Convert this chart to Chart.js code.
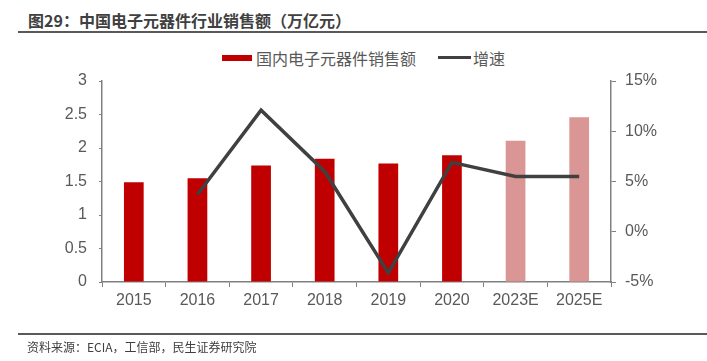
<!DOCTYPE html>
<html>
<head>
<meta charset="utf-8">
<script src="https://cdn.jsdelivr.net/npm/chart.js@4"></script>
<style>
  body { margin: 0; background: #fff; font-family: "Liberation Sans", "Noto Sans CJK SC", sans-serif; }
  #wrap { position: relative; width: 707px; height: 361px; overflow: hidden; }
  #chart { position: absolute; left: 0; top: 0; }
  .title { position: absolute; left: 28px; top: 10px; font-size: 16px; font-weight: bold; color: #404040; font-family: "Noto Sans CJK SC", sans-serif; line-height: 20px; }
  .rule { position: absolute; left: 18px; right: 0; height: 2px; background: #595959; }
  .source { position: absolute; left: 27px; top: 339px; font-size: 12px; color: #404040; font-family: "Noto Sans CJK SC", sans-serif; line-height: 16px; }
  .legend { position: absolute; top: 45px; left: 222px; font-size: 16px; color: #595959; font-family: "Noto Sans CJK SC", sans-serif; line-height: 20px; white-space: nowrap; }
  .legend span { display: inline-block; vertical-align: middle; }
  .swatch-bar { width: 30px; height: 6px; background: #C00000; margin-right: 4px; }
  .swatch-line { width: 33px; height: 3px; background: #404040; margin-left: 22px; margin-right: 2px; }
</style>
</head>
<body>
<div id="wrap">
  <div class="title">图29：中国电子元器件行业销售额（万亿元）</div>
  <div class="rule" style="top:31px"></div>
  <div class="legend">
    <span class="swatch-bar"></span><span>国内电子元器件销售额</span><span class="swatch-line"></span><span>增速</span>
  </div>
  <canvas id="chart" width="707" height="361"></canvas>
  <div class="rule" style="top:333px"></div>
  <div class="source">资料来源：ECIA，工信部，民生证券研究院</div>
</div>
<script>
// chart data
const years = ['2015', '2016', '2017', '2018', '2019', '2020', '2023E', '2025E'];
const sales = [1.49, 1.55, 1.74, 1.84, 1.77, 1.89, 2.11, 2.46];
const growth = [null, 3.7, 12.1, 6.0, -4.1, 6.9, 5.5, 5.5];
const forecast = [false, false, false, false, false, false, true, true];

const axisColor = '#808080';
const tickFont = { family: '"Liberation Sans", Arial, sans-serif', size: 16 };

new Chart(document.getElementById('chart').getContext('2d'), {
    data: {
        labels: years,
        datasets: [
            {
                type: 'line',
                label: '增速',
                data: growth,
                yAxisID: 'y1',
                borderColor: '#404040',
                borderWidth: 3.5,
                pointRadius: 0,
                tension: 0,
                order: 0
            },
            {
                type: 'bar',
                label: '国内电子元器件销售额',
                data: sales,
                yAxisID: 'y',
                backgroundColor: forecast.map(f => f ? '#D99694' : '#C00000'),
                categoryPercentage: 1,
                barPercentage: 0.31,
                order: 1
            }
        ]
    },
    options: {
        responsive: false,
        animation: false,
        layout: { padding: { top: 81, left: 0, right: 0, bottom: 0 } },
        plugins: { legend: { display: false }, tooltip: { enabled: false } },
        scales: {
            x: {
                offset: true,
                grid: { offset: true, drawOnChartArea: false, drawTicks: true, tickLength: 5, color: axisColor },
                border: { display: true, color: axisColor, width: 1.5 },
                ticks: { color: '#595959', font: tickFont, padding: 4, maxRotation: 0 },
                afterFit: s => { s.height = 79; }
            },
            y: {
                position: 'left',
                min: 0,
                max: 3,
                grid: { drawOnChartArea: false, drawTicks: true, tickLength: 3, color: axisColor },
                border: { display: true, color: axisColor, width: 1.5 },
                ticks: { stepSize: 0.5, color: '#595959', font: tickFont, padding: 12, callback: v => String(v) },
                afterFit: s => { s.width = 102; }
            },
            y1: {
                position: 'right',
                min: -5,
                max: 15,
                grid: { drawOnChartArea: false, drawTicks: true, tickLength: 5, color: axisColor },
                border: { display: true, color: axisColor, width: 1.5 },
                ticks: { stepSize: 5, color: '#595959', font: tickFont, padding: 9, callback: v => v + '%' },
                afterFit: s => { s.width = 96; }
            }
        }
    }
});
</script>
</body>
</html>
